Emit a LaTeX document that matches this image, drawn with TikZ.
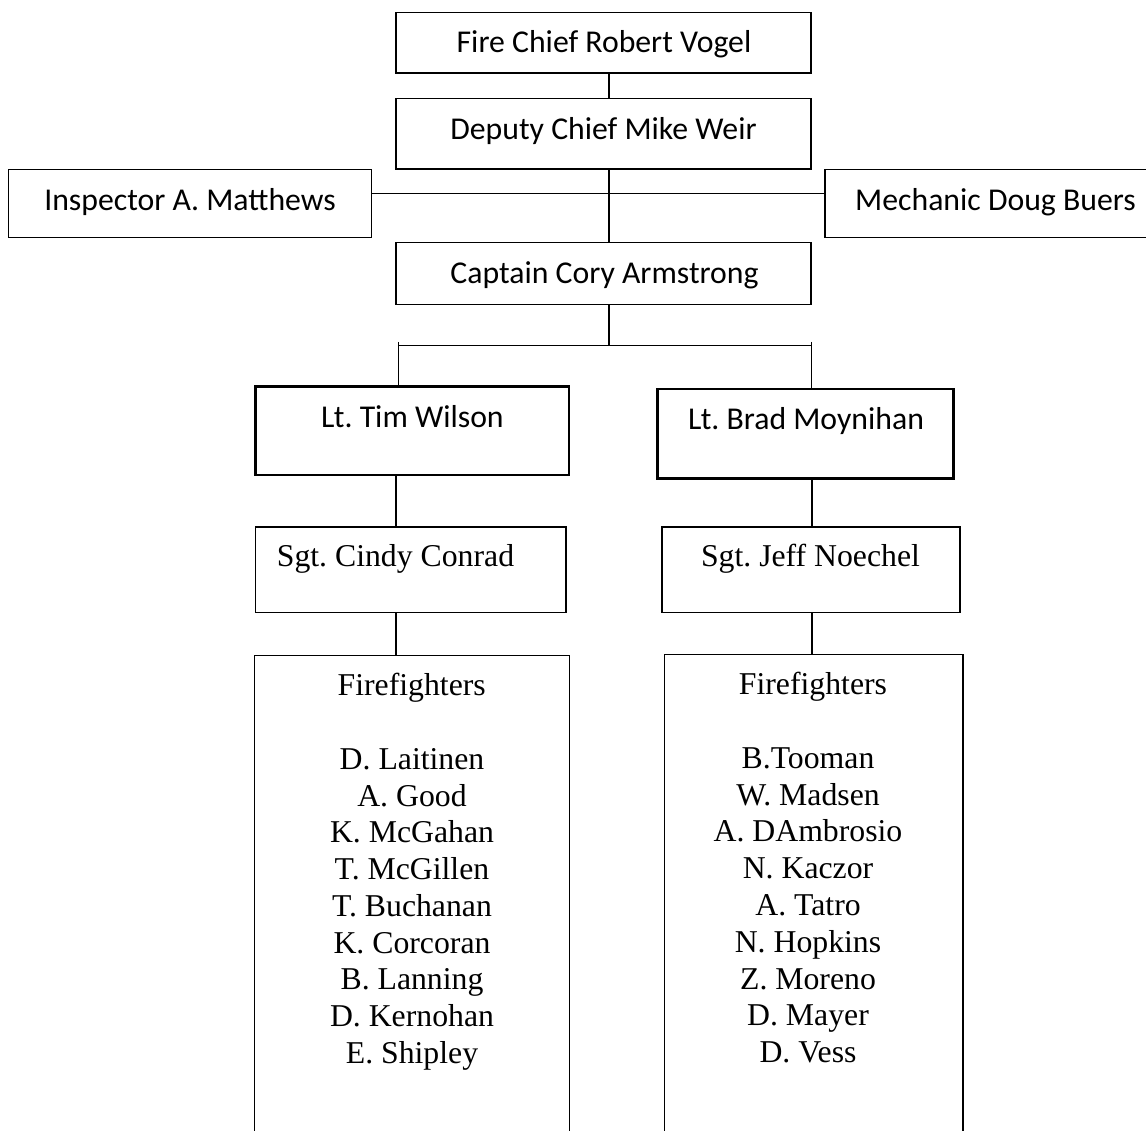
\documentclass[tikz,border=0pt]{standalone}
\usepackage{fontspec}
\setmainfont{Liberation Serif}
\newfontfamily\calibri{Carlito}
\frenchspacing
\begin{document}
\begin{tikzpicture}[x=1pt,y=-1pt,
  topbox/.style={draw=black, line width=1.9pt, inner sep=0pt, rectangle},
  ltbox/.style={draw=black, line width=2.3pt, inner sep=0pt, rectangle},
  sgtbox/.style={draw=black, line width=1.3pt, inner sep=0pt, rectangle},
  ghost/.style={inner sep=0pt, rectangle},
  sanslabel/.style={font=\calibri\frenchspacing\fontsize{31.75}{36.8}\selectfont, inner sep=0pt, anchor=base},
  seriflabel/.style={font=\frenchspacing\fontsize{31.75}{36.8}\selectfont, inner sep=0pt, anchor=base},
  conn/.style={draw=black, line width=1.6pt},
  openbox/.style={draw=black, line width=1.3pt}
]
\useasboundingbox (0,0) rectangle (1146,1131);
\fill[white] (0,0) rectangle (1146,1131);

% boxes
\node[topbox, minimum width=415, minimum height=60.5] (fire) at (603.5,42.75) {};
\node[topbox, minimum width=415, minimum height=70.5] (deputy) at (603.5,133.75) {};
\node[topbox, minimum width=363, minimum height=68] (inspector) at (190,203.5) {};
\node[topbox, minimum width=341, minimum height=68] (mechanic) at (995.5,203.5) {};
\node[topbox, minimum width=415, minimum height=62] (captain) at (603.5,273.5) {};
\node[ltbox, minimum width=313.5, minimum height=88.5] (tim) at (412.25,430.75) {};
\node[ltbox, minimum width=296, minimum height=89.5] (brad) at (805.5,433.75) {};
\node[sgtbox, minimum width=310.5, minimum height=85.5] (cindy) at (410.75,569.75) {};
\node[sgtbox, minimum width=298, minimum height=85.5] (jeff) at (811,569.75) {};
\node[ghost, minimum width=314.3, minimum height=480] (ffL) at (412.15,895.5) {};
\node[ghost, minimum width=297.7, minimum height=480] (ffR) at (813.85,895) {};
\draw[openbox] (ffL.south west) -- (ffL.north west) -- (ffL.north east) -- (ffL.south east);
\draw[openbox] (ffR.south west) -- (ffR.north west) -- (ffR.north east) -- (ffR.south east);

% labels
\node[sanslabel] (firet) at (604,52.7) {Fire Chief Robert Vogel};
\node[sanslabel] (deputyt) at (603.5,140) {Deputy Chief Mike Weir};
\node[sanslabel] (inspectort) at (190,211) {Inspector A. Matthews};
\node[sanslabel] (mechanict) at (995.5,211) {Mechanic Doug Buers};
\node[sanslabel] (captaint) at (604.5,284) {Captain Cory Armstrong};
\node[sanslabel] (timt) at (412.5,427.3) {Lt. Tim Wilson};
\node[sanslabel] (bradt) at (806,430) {Lt. Brad Moynihan};
\node[seriflabel] (cindyt) at (395.5,566.7) {Sgt. Cindy Conrad};
\node[seriflabel] (jefft) at (810.5,566) {Sgt. Jeff Noechel};
\node[seriflabel] (ffLt) at (411.7,695) {Firefighters};
\node[seriflabel] (ffRt) at (813,694.3) {Firefighters};
\foreach \n [count=\i] in {D. Laitinen, A. Good, K. McGahan, T. McGillen, T. Buchanan, K. Corcoran, B. Lanning, D. Kernohan, E. Shipley}
  \node[seriflabel] (ffL\i) at (412, {769.3+(\i-1)*36.75}) {\n};
\foreach \n [count=\i] in {B.Tooman, W. Madsen, A. DAmbrosio, N. Kaczor, A. Tatro, N. Hopkins, Z. Moreno, D. Mayer, D. Vess}
  \node[seriflabel] (ffR\i) at (808, {768.3+(\i-1)*36.8}) {\n};

% connector coordinates
\coordinate (spine) at (609,200);
\coordinate (hline) at (609,193.5);
\coordinate (barL) at (398.5,345.5);
\coordinate (barR) at (811.5,345.5);
\coordinate (leftcol) at (396,600);
\coordinate (rightcol) at (812,600);

% connectors
\draw[conn] (fire.south -| spine) -- (deputy.north -| spine);
\draw[conn] (deputy.south -| spine) -- (captain.north -| spine);
\draw[conn] (hline -| inspector.east) -- (hline -| mechanic.west);
\draw[conn] (captain.south -| spine) -- (barL -| spine);
\draw[conn] (barL) -- (barR);
\draw[conn] ([yshift=3.5pt]barL) -- (barL |- tim.north);
\draw[conn] ([yshift=3.5pt]barR) -- (barR |- brad.north);
\draw[conn] (tim.south -| leftcol) -- (cindy.north -| leftcol);
\draw[conn] (cindy.south -| leftcol) -- (ffL.north -| leftcol);
\draw[conn] (brad.south -| rightcol) -- (jeff.north -| rightcol);
\draw[conn] (jeff.south -| rightcol) -- (ffR.north -| rightcol);
\end{tikzpicture}
\end{document}
